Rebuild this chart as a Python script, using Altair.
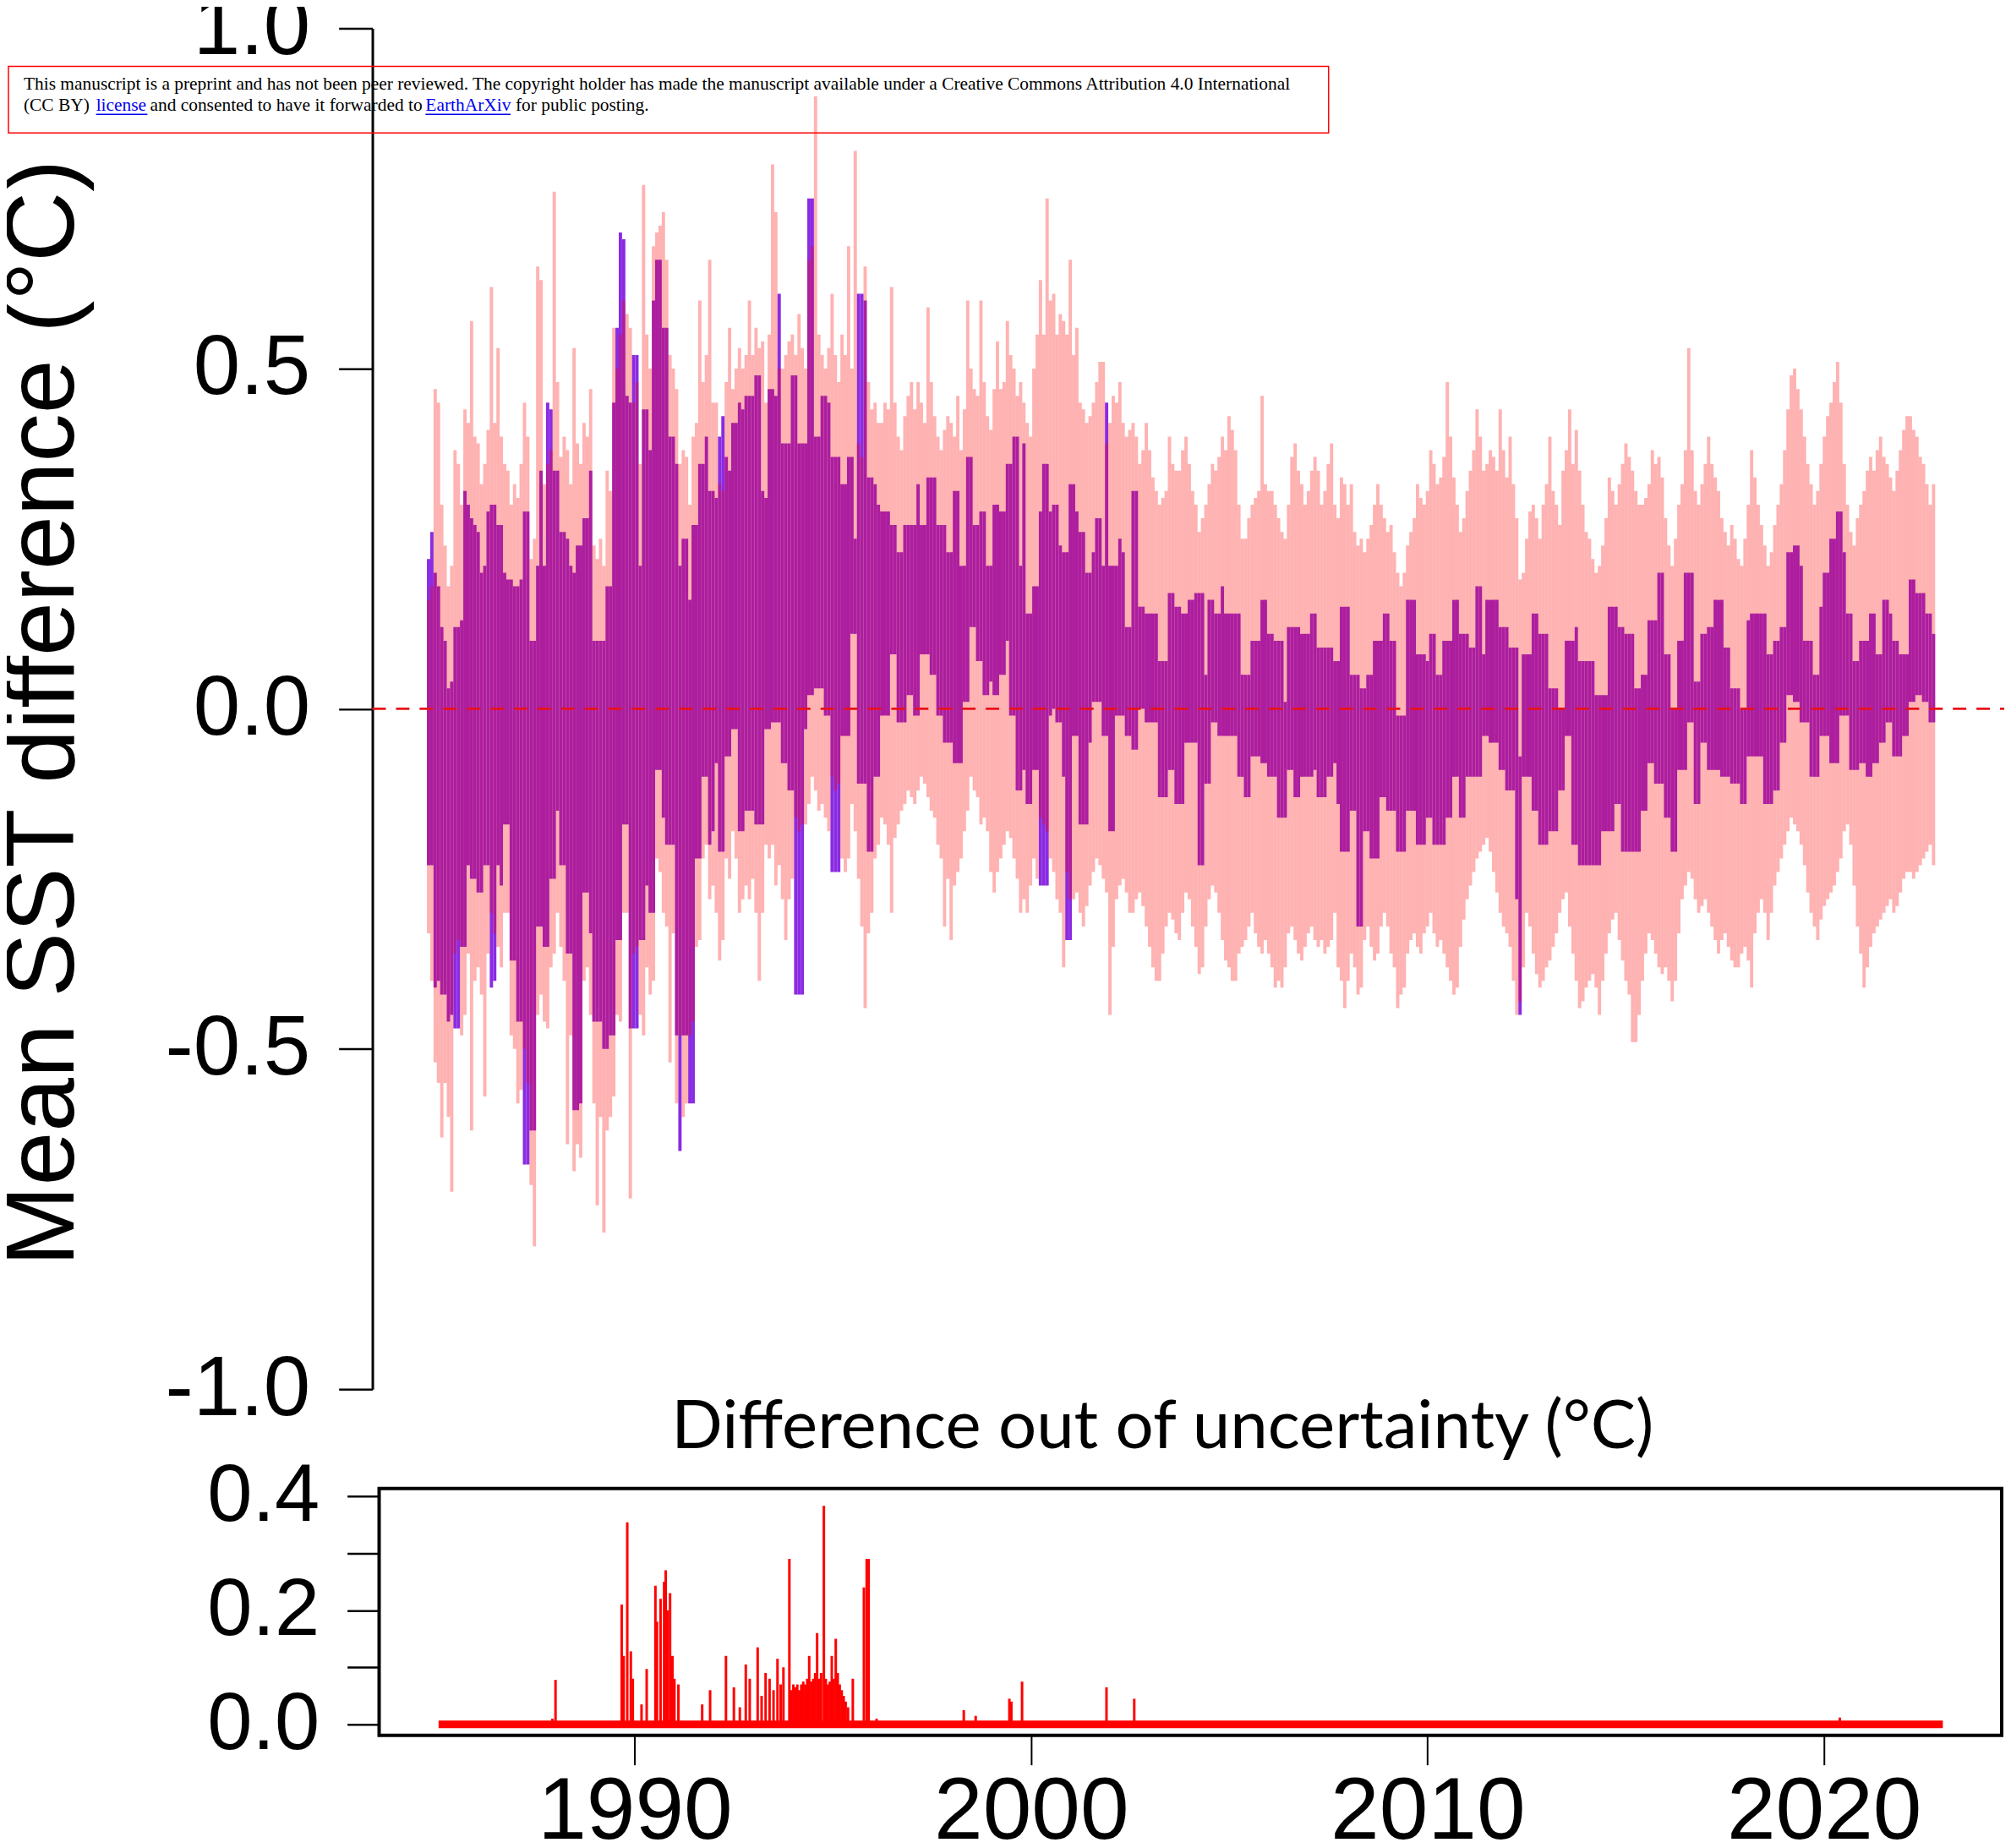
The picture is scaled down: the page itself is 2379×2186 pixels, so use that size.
import altair as alt
import numpy as np
import pandas as pd

# ---------------- data (monthly, Jan 1985 .. Dec 2022) ----------------
START_YEAR = 1985

purple_top = [
    0.22, 0.26, 0.20, 0.18, 0.12, 0.10, 0.03, 0.04, 0.12, 0.12, 0.13, 0.32,
    0.30, 0.28, 0.27, 0.26, 0.20, 0.21, 0.29, 0.30, 0.30, 0.27, 0.27, 0.20,
    0.19, 0.19, 0.18, 0.18, 0.19, 0.29, 0.29, 0.10, 0.10, 0.21, 0.35, 0.21,
    0.45, 0.44, 0.35, 0.35, 0.26, 0.26, 0.25, 0.21, 0.20, 0.24, 0.24, 0.28,
    0.28, 0.35, 0.10, 0.10, 0.10, 0.10, 0.18, 0.18, 0.45, 0.56, 0.70, 0.69,
    0.46, 0.45, 0.52, 0.52, 0.21, 0.44, 0.44, 0.38, 0.60, 0.66, 0.66, 0.56,
    0.56, 0.40, 0.40, 0.36, 0.21, 0.25, 0.25, 0.16, 0.27, 0.27, 0.36, 0.36,
    0.40, 0.32, 0.32, 0.31, 0.40, 0.43, 0.37, 0.35, 0.42, 0.42, 0.45, 0.44,
    0.46, 0.46, 0.46, 0.49, 0.49, 0.32, 0.31, 0.47, 0.47, 0.46, 0.61, 0.39,
    0.39, 0.39, 0.49, 0.49, 0.39, 0.39, 0.39, 0.75, 0.75, 0.40, 0.40, 0.46,
    0.46, 0.45, 0.37, 0.37, 0.37, 0.33, 0.33, 0.37, 0.37, 0.25, 0.61, 0.61,
    0.60, 0.34, 0.34, 0.33, 0.30, 0.29, 0.29, 0.29, 0.27, 0.27, 0.23, 0.23,
    0.27, 0.27, 0.27, 0.27, 0.33, 0.27, 0.27, 0.34, 0.34, 0.34, 0.27, 0.27,
    0.27, 0.23, 0.23, 0.32, 0.32, 0.21, 0.21, 0.37, 0.37, 0.27, 0.27, 0.29,
    0.29, 0.21, 0.21, 0.30, 0.30, 0.29, 0.29, 0.36, 0.36, 0.40, 0.40, 0.21,
    0.39, 0.14, 0.14, 0.18, 0.18, 0.29, 0.36, 0.36, 0.29, 0.30, 0.30, 0.24,
    0.23, 0.23, 0.33, 0.33, 0.29, 0.26, 0.26, 0.20, 0.20, 0.23, 0.28, 0.28,
    0.21, 0.45, 0.21, 0.21, 0.21, 0.25, 0.23, 0.12, 0.12, 0.32, 0.32, 0.15,
    0.15, 0.14, 0.14, 0.14, 0.14, 0.07, 0.07, 0.07, 0.17, 0.17, 0.15, 0.15,
    0.14, 0.14, 0.16, 0.16, 0.17, 0.17, 0.17, 0.05, 0.16, 0.16, 0.14, 0.14,
    0.18, 0.14, 0.14, 0.14, 0.14, 0.14, 0.05, 0.05, 0.05, 0.10, 0.10, 0.10,
    0.16, 0.16, 0.11, 0.11, 0.10, 0.10, 0.10, 0.01, 0.12, 0.12, 0.12, 0.12,
    0.11, 0.11, 0.11, 0.14, 0.14, 0.09, 0.09, 0.09, 0.09, 0.09, 0.07, 0.07,
    0.15, 0.15, 0.15, 0.05, 0.05, 0.05, 0.03, 0.03, 0.05, 0.05, 0.10, 0.10,
    0.10, 0.14, 0.14, 0.10, 0.10, -0.01, -0.01, -0.01, 0.16, 0.16, 0.16, 0.08,
    0.08, 0.08, 0.07, 0.11, 0.11, 0.05, 0.05, 0.10, 0.10, 0.10, 0.16, 0.16,
    0.11, 0.11, 0.11, 0.09, 0.09, 0.18, 0.18, 0.08, 0.16, 0.16, 0.16, 0.16,
    0.12, 0.12, 0.12, 0.09, 0.09, 0.09, -0.07, 0.08, 0.08, 0.08, 0.14, 0.14,
    0.11, 0.11, 0.11, 0.03, 0.03, 0.03, 0.00, 0.00, 0.10, 0.10, 0.10, 0.12,
    0.07, 0.07, 0.07, 0.07, 0.07, 0.02, 0.02, 0.02, 0.02, 0.15, 0.15, 0.15,
    0.12, 0.12, 0.11, 0.11, 0.11, 0.03, 0.03, 0.05, 0.05, 0.13, 0.13, 0.13,
    0.20, 0.20, 0.08, 0.08, 0.00, 0.00, 0.10, 0.10, 0.20, 0.20, 0.20, 0.04,
    0.04, 0.11, 0.11, 0.12, 0.12, 0.16, 0.16, 0.16, 0.09, 0.09, 0.03, 0.03,
    0.03, 0.00, 0.00, 0.13, 0.14, 0.14, 0.14, 0.14, 0.14, 0.08, 0.08, 0.10,
    0.10, 0.12, 0.12, 0.23, 0.23, 0.24, 0.24, 0.21, 0.10, 0.10, 0.10, 0.05,
    0.05, 0.15, 0.20, 0.20, 0.25, 0.25, 0.29, 0.29, 0.23, 0.14, 0.14, 0.07,
    0.07, 0.10, 0.10, 0.10, 0.14, 0.14, 0.08, 0.08, 0.16, 0.16, 0.14, 0.10,
    0.10, 0.08, 0.08, 0.08, 0.19, 0.19, 0.17, 0.17, 0.17, 0.14, 0.14, 0.11,
]

purple_bottom = [
    -0.23, -0.23, -0.41, -0.40, -0.42, -0.42, -0.46, -0.45, -0.47, -0.47, -0.35, -0.35,
    -0.23, -0.25, -0.25, -0.27, -0.27, -0.23, -0.23, -0.41, -0.40, -0.23, -0.26, -0.17,
    -0.17, -0.37, -0.37, -0.46, -0.46, -0.67, -0.67, -0.62, -0.62, -0.32, -0.32, -0.35,
    -0.35, -0.25, -0.25, -0.15, -0.23, -0.23, -0.36, -0.36, -0.59, -0.59, -0.58, -0.27,
    -0.27, -0.33, -0.46, -0.46, -0.46, -0.50, -0.50, -0.48, -0.48, -0.34, -0.34, -0.17,
    -0.17, -0.47, -0.47, -0.47, -0.34, -0.34, -0.26, -0.30, -0.30, -0.09, -0.09, -0.16,
    -0.20, -0.20, -0.20, -0.48, -0.65, -0.48, -0.48, -0.58, -0.58, -0.22, -0.22, -0.10,
    -0.10, -0.20, -0.18, -0.08, -0.21, -0.21, -0.07, -0.07, -0.03, -0.03, -0.18, -0.18,
    -0.15, -0.15, -0.15, -0.17, -0.17, -0.17, -0.03, -0.03, -0.02, -0.02, -0.02, -0.08,
    -0.08, -0.12, -0.12, -0.42, -0.42, -0.42, -0.03, 0.02, 0.02, 0.03, 0.03, 0.03,
    -0.01, -0.01, -0.24, -0.24, -0.24, -0.04, -0.04, -0.04, 0.11, 0.11, -0.11, -0.11,
    -0.11, -0.21, -0.21, -0.10, -0.10, -0.01, -0.01, -0.01, 0.08, 0.08, -0.02, -0.02,
    -0.02, 0.02, 0.02, -0.01, -0.01, 0.08, 0.08, 0.08, 0.05, 0.05, -0.01, -0.01,
    -0.05, -0.05, -0.05, -0.08, -0.08, -0.08, 0.01, 0.01, 0.12, 0.12, 0.07, 0.07,
    0.02, 0.02, 0.04, 0.02, 0.02, 0.05, 0.05, 0.10, -0.01, -0.01, -0.12, -0.12,
    -0.09, -0.14, -0.14, -0.09, -0.09, -0.26, -0.26, -0.26, -0.01, 0.00, -0.02, -0.02,
    -0.10, -0.34, -0.34, -0.04, -0.04, -0.17, -0.17, -0.17, -0.05, 0.01, 0.01, 0.01,
    -0.04, -0.04, -0.18, -0.18, -0.01, -0.01, -0.01, -0.04, -0.04, -0.06, -0.06, 0.00,
    0.00, -0.02, -0.02, -0.02, -0.02, -0.13, -0.13, -0.13, -0.09, -0.09, -0.14, -0.14,
    -0.14, -0.05, -0.05, -0.05, -0.05, -0.23, -0.23, -0.11, -0.11, -0.02, -0.02, -0.04,
    -0.04, -0.04, -0.04, -0.04, -0.04, -0.10, -0.10, -0.13, -0.13, -0.07, -0.07, -0.07,
    -0.08, -0.08, -0.10, -0.10, -0.10, -0.16, -0.16, -0.16, -0.09, -0.09, -0.13, -0.13,
    -0.10, -0.10, -0.10, -0.10, -0.09, -0.13, -0.13, -0.13, -0.10, -0.10, -0.08, -0.14,
    -0.21, -0.21, -0.21, -0.15, -0.15, -0.32, -0.32, -0.18, -0.18, -0.22, -0.22, -0.22,
    -0.13, -0.13, -0.15, -0.15, -0.15, -0.21, -0.21, -0.21, -0.15, -0.15, -0.15, -0.20,
    -0.20, -0.20, -0.16, -0.16, -0.20, -0.20, -0.20, -0.20, -0.16, -0.16, -0.10, -0.10,
    -0.16, -0.16, -0.10, -0.10, -0.10, -0.10, -0.10, -0.04, -0.04, -0.05, -0.05, -0.05,
    -0.09, -0.09, -0.12, -0.12, -0.12, -0.28, -0.45, -0.10, -0.10, -0.10, -0.15, -0.15,
    -0.20, -0.20, -0.20, -0.18, -0.18, -0.18, -0.12, -0.12, -0.04, -0.04, -0.20, -0.20,
    -0.23, -0.23, -0.23, -0.23, -0.23, -0.23, -0.23, -0.18, -0.18, -0.18, -0.18, -0.14,
    -0.14, -0.21, -0.21, -0.21, -0.21, -0.21, -0.21, -0.15, -0.15, -0.08, -0.08, -0.11,
    -0.11, -0.11, -0.16, -0.16, -0.21, -0.21, -0.09, -0.09, -0.09, -0.02, -0.02, -0.14,
    -0.14, -0.05, -0.05, -0.09, -0.09, -0.09, -0.09, -0.10, -0.10, -0.10, -0.11, -0.11,
    -0.11, -0.14, -0.14, -0.07, -0.07, -0.07, -0.07, -0.07, -0.14, -0.14, -0.14, -0.12,
    -0.12, -0.05, -0.05, 0.02, 0.02, 0.01, 0.01, -0.02, -0.02, -0.02, -0.10, -0.10,
    -0.10, -0.04, -0.04, -0.04, -0.08, -0.08, -0.08, -0.01, -0.01, -0.01, -0.09, -0.09,
    -0.09, -0.08, -0.08, -0.10, -0.10, -0.08, -0.08, -0.05, -0.05, -0.02, -0.02, -0.07,
    -0.07, -0.07, -0.04, -0.04, 0.01, 0.01, 0.02, 0.02, 0.01, 0.01, -0.02, -0.02,
]

pink_top = [
    0.16, 0.18, 0.47, 0.45, 0.30, 0.24, 0.18, 0.21, 0.38, 0.36, 0.30, 0.44,
    0.42, 0.57, 0.40, 0.39, 0.33, 0.36, 0.41, 0.62, 0.42, 0.53, 0.40, 0.36,
    0.35, 0.30, 0.33, 0.31, 0.36, 0.45, 0.40, 0.22, 0.25, 0.65, 0.63, 0.33,
    0.36, 0.38, 0.76, 0.48, 0.37, 0.40, 0.38, 0.33, 0.53, 0.39, 0.36, 0.42,
    0.40, 0.47, 0.24, 0.22, 0.25, 0.21, 0.35, 0.32, 0.56, 0.50, 0.55, 0.60,
    0.58, 0.56, 0.45, 0.48, 0.36, 0.77, 0.55, 0.50, 0.68, 0.70, 0.71, 0.73,
    0.66, 0.52, 0.50, 0.47, 0.36, 0.38, 0.37, 0.30, 0.40, 0.42, 0.60, 0.48,
    0.52, 0.66, 0.45, 0.45, 0.33, 0.32, 0.48, 0.56, 0.47, 0.50, 0.53, 0.50,
    0.52, 0.60, 0.52, 0.56, 0.53, 0.54, 0.45, 0.55, 0.80, 0.73, 0.50, 0.50,
    0.52, 0.54, 0.55, 0.52, 0.58, 0.53, 0.50, 0.66, 0.68, 0.90, 0.55, 0.52,
    0.50, 0.53, 0.61, 0.52, 0.48, 0.55, 0.52, 0.68, 0.50, 0.82, 0.39, 0.37,
    0.65, 0.48, 0.44, 0.45, 0.42, 0.42, 0.45, 0.44, 0.62, 0.45, 0.40, 0.38,
    0.43, 0.46, 0.48, 0.44, 0.48, 0.45, 0.42, 0.59, 0.48, 0.43, 0.40, 0.38,
    0.41, 0.43, 0.42, 0.40, 0.46, 0.38, 0.44, 0.60, 0.50, 0.47, 0.46, 0.60,
    0.48, 0.43, 0.41, 0.47, 0.54, 0.47, 0.48, 0.57, 0.52, 0.50, 0.46, 0.48,
    0.45, 0.42, 0.40, 0.50, 0.55, 0.63, 0.55, 0.75, 0.60, 0.61, 0.55, 0.58,
    0.57, 0.55, 0.66, 0.52, 0.56, 0.45, 0.44, 0.42, 0.43, 0.45, 0.48, 0.51,
    0.51, 0.39, 0.42, 0.46, 0.45, 0.48, 0.42, 0.40, 0.41, 0.42, 0.40, 0.36,
    0.38, 0.42, 0.38, 0.34, 0.32, 0.30, 0.31, 0.32, 0.40, 0.36, 0.35, 0.35,
    0.38, 0.40, 0.36, 0.32, 0.30, 0.26, 0.28, 0.30, 0.33, 0.36, 0.35, 0.37,
    0.40, 0.38, 0.43, 0.41, 0.38, 0.30, 0.25, 0.25, 0.28, 0.30, 0.31, 0.32,
    0.46, 0.33, 0.32, 0.32, 0.30, 0.28, 0.26, 0.25, 0.30, 0.37, 0.39, 0.35,
    0.33, 0.30, 0.32, 0.35, 0.37, 0.35, 0.30, 0.32, 0.36, 0.39, 0.30, 0.28,
    0.34, 0.33, 0.30, 0.33, 0.26, 0.24, 0.25, 0.23, 0.25, 0.27, 0.30, 0.33,
    0.30, 0.28, 0.26, 0.27, 0.23, 0.20, 0.18, 0.20, 0.24, 0.26, 0.28, 0.33,
    0.31, 0.30, 0.32, 0.38, 0.36, 0.33, 0.34, 0.37, 0.48, 0.40, 0.34, 0.30,
    0.26, 0.28, 0.32, 0.35, 0.38, 0.44, 0.40, 0.35, 0.36, 0.38, 0.37, 0.35,
    0.44, 0.38, 0.34, 0.40, 0.33, 0.28, 0.19, 0.20, 0.25, 0.29, 0.30, 0.28,
    0.25, 0.30, 0.33, 0.40, 0.32, 0.30, 0.27, 0.35, 0.38, 0.44, 0.36, 0.41,
    0.35, 0.30, 0.26, 0.25, 0.22, 0.20, 0.21, 0.24, 0.28, 0.34, 0.32, 0.30,
    0.33, 0.36, 0.39, 0.37, 0.35, 0.32, 0.30, 0.30, 0.31, 0.33, 0.38, 0.36,
    0.37, 0.34, 0.28, 0.24, 0.21, 0.25, 0.30, 0.33, 0.38, 0.53, 0.38, 0.32,
    0.30, 0.33, 0.36, 0.40, 0.36, 0.34, 0.32, 0.28, 0.26, 0.24, 0.27, 0.25,
    0.22, 0.21, 0.25, 0.30, 0.38, 0.34, 0.30, 0.27, 0.24, 0.21, 0.23, 0.27,
    0.30, 0.33, 0.38, 0.44, 0.49, 0.50, 0.47, 0.44, 0.40, 0.36, 0.33, 0.30,
    0.32, 0.36, 0.40, 0.43, 0.45, 0.48, 0.51, 0.45, 0.36, 0.30, 0.26, 0.24,
    0.28, 0.30, 0.32, 0.35, 0.37, 0.35, 0.38, 0.40, 0.37, 0.36, 0.34, 0.32,
    0.35, 0.38, 0.41, 0.43, 0.43, 0.41, 0.40, 0.37, 0.36, 0.33, 0.30, 0.33,
]

pink_bottom = [
    -0.33, -0.40, -0.52, -0.55, -0.63, -0.55, -0.60, -0.71, -0.36, -0.34, -0.48, -0.45,
    -0.36, -0.62, -0.40, -0.38, -0.42, -0.57, -0.36, -0.30, -0.33, -0.35, -0.38, -0.30,
    -0.30, -0.48, -0.50, -0.58, -0.56, -0.50, -0.55, -0.70, -0.79, -0.45, -0.42, -0.46,
    -0.47, -0.38, -0.36, -0.30, -0.35, -0.40, -0.64, -0.48, -0.68, -0.64, -0.66, -0.40,
    -0.38, -0.45, -0.58, -0.73, -0.60, -0.77, -0.62, -0.60, -0.57, -0.45, -0.46, -0.30,
    -0.30, -0.72, -0.36, -0.35, -0.45, -0.48, -0.38, -0.42, -0.40, -0.22, -0.24, -0.30,
    -0.32, -0.52, -0.33, -0.58, -0.48, -0.60, -0.58, -0.48, -0.46, -0.35, -0.34, -0.22,
    -0.20, -0.28, -0.26, -0.30, -0.37, -0.34, -0.22, -0.25, -0.18, -0.22, -0.30, -0.28,
    -0.26, -0.28, -0.25, -0.30, -0.40, -0.30, -0.20, -0.22, -0.20, -0.26, -0.23, -0.28,
    -0.34, -0.28, -0.25, -0.16, -0.18, -0.17, -0.17, -0.14, -0.10, -0.12, -0.15, -0.14,
    -0.16, -0.18, -0.10, -0.12, -0.11, -0.22, -0.24, -0.22, -0.14, -0.18, -0.25, -0.32,
    -0.44, -0.33, -0.30, -0.22, -0.20, -0.16, -0.17, -0.20, -0.30, -0.19, -0.17, -0.15,
    -0.14, -0.12, -0.13, -0.14, -0.12, -0.10, -0.11, -0.13, -0.15, -0.16, -0.20, -0.22,
    -0.32, -0.25, -0.34, -0.26, -0.24, -0.22, -0.18, -0.15, -0.10, -0.12, -0.13, -0.17,
    -0.16, -0.18, -0.24, -0.27, -0.24, -0.22, -0.20, -0.18, -0.19, -0.22, -0.25, -0.30,
    -0.28, -0.30, -0.26, -0.22, -0.25, -0.16, -0.17, -0.18, -0.22, -0.24, -0.28, -0.30,
    -0.38, -0.24, -0.28, -0.28, -0.27, -0.30, -0.32, -0.29, -0.26, -0.24, -0.22, -0.23,
    -0.25, -0.27, -0.45, -0.35, -0.28, -0.26, -0.25, -0.27, -0.30, -0.30, -0.28, -0.27,
    -0.29, -0.32, -0.35, -0.38, -0.40, -0.40, -0.36, -0.32, -0.30, -0.31, -0.33, -0.34,
    -0.30, -0.27, -0.28, -0.32, -0.35, -0.39, -0.38, -0.32, -0.28, -0.26, -0.27, -0.30,
    -0.34, -0.37, -0.38, -0.40, -0.40, -0.36, -0.35, -0.34, -0.32, -0.30, -0.33, -0.35,
    -0.36, -0.34, -0.36, -0.38, -0.41, -0.40, -0.41, -0.38, -0.33, -0.32, -0.34, -0.36,
    -0.37, -0.35, -0.33, -0.32, -0.34, -0.35, -0.34, -0.36, -0.35, -0.34, -0.30, -0.38,
    -0.40, -0.44, -0.40, -0.36, -0.38, -0.42, -0.41, -0.34, -0.32, -0.35, -0.37, -0.36,
    -0.32, -0.30, -0.32, -0.36, -0.38, -0.44, -0.42, -0.41, -0.36, -0.34, -0.33, -0.35,
    -0.36, -0.33, -0.32, -0.30, -0.33, -0.35, -0.34, -0.36, -0.38, -0.40, -0.42, -0.41,
    -0.35, -0.31, -0.28, -0.26, -0.24, -0.22, -0.21, -0.20, -0.19, -0.21, -0.24, -0.27,
    -0.30, -0.32, -0.33, -0.35, -0.40, -0.45, -0.43, -0.38, -0.30, -0.32, -0.36, -0.39,
    -0.41, -0.40, -0.38, -0.37, -0.35, -0.33, -0.30, -0.28, -0.27, -0.32, -0.36, -0.40,
    -0.44, -0.43, -0.41, -0.40, -0.39, -0.41, -0.45, -0.40, -0.36, -0.33, -0.31, -0.30,
    -0.34, -0.37, -0.40, -0.42, -0.49, -0.49, -0.45, -0.40, -0.36, -0.33, -0.34, -0.36,
    -0.38, -0.39, -0.38, -0.40, -0.43, -0.40, -0.33, -0.28, -0.26, -0.24, -0.25, -0.28,
    -0.30, -0.29, -0.28, -0.30, -0.32, -0.34, -0.36, -0.34, -0.33, -0.35, -0.37, -0.38,
    -0.38, -0.36, -0.35, -0.37, -0.41, -0.33, -0.30, -0.28, -0.30, -0.34, -0.30, -0.26,
    -0.24, -0.22, -0.20, -0.18, -0.16, -0.17, -0.18, -0.20, -0.23, -0.27, -0.30, -0.32,
    -0.34, -0.31, -0.29, -0.28, -0.27, -0.26, -0.24, -0.22, -0.18, -0.17, -0.20, -0.26,
    -0.32, -0.36, -0.41, -0.38, -0.35, -0.33, -0.32, -0.31, -0.30, -0.29, -0.28, -0.30,
    -0.29, -0.27, -0.25, -0.24, -0.24, -0.25, -0.24, -0.23, -0.22, -0.21, -0.20, -0.23,
]

# lower panel: difference out of uncertainty
out_year = [1987.92, 1988.0, 1989.67, 1989.72, 1989.81, 1989.9, 1989.95, 1990.17, 1990.3,
            1990.52, 1990.56, 1990.65, 1990.74, 1990.78, 1990.83, 1990.89, 1990.95, 1991.0,
            1991.1, 1991.7, 1991.9, 1992.3, 1992.5, 1992.65, 1992.8, 1992.9, 1993.1, 1993.2,
            1993.3, 1993.4, 1993.5, 1993.6, 1993.68, 1993.75, 1993.9, 1993.95, 1994.0, 1994.05,
            1994.1, 1994.15, 1994.2, 1994.25, 1994.3, 1994.35, 1994.4, 1994.45, 1994.5, 1994.55,
            1994.6, 1994.65, 1994.7, 1994.77, 1994.82, 1994.87, 1994.92, 1994.97, 1995.02,
            1995.07, 1995.12, 1995.17, 1995.22, 1995.27, 1995.32, 1995.38, 1995.5, 1995.78,
            1995.85, 1995.9, 1996.1, 1998.3, 1998.6, 1999.45, 1999.5, 1999.77, 2001.9, 2002.6,
            2020.4]
out_value = [0.01, 0.078, 0.21, 0.12, 0.354, 0.128, 0.08, 0.035, 0.097,
             0.243, 0.18, 0.22, 0.25, 0.27, 0.20, 0.23, 0.12, 0.08,
             0.07, 0.035, 0.06, 0.12, 0.065, 0.03, 0.105, 0.08, 0.135, 0.05,
             0.09, 0.08, 0.06, 0.115, 0.07, 0.10, 0.29, 0.06, 0.07, 0.065,
             0.07, 0.06, 0.07, 0.075, 0.07, 0.08, 0.12, 0.075, 0.08, 0.09,
             0.16, 0.08, 0.09, 0.383, 0.08, 0.07, 0.075, 0.12, 0.08,
             0.15, 0.09, 0.07, 0.06, 0.05, 0.04, 0.03, 0.08, 0.24,
             0.29, 0.29, 0.01, 0.025, 0.015, 0.045, 0.04, 0.075, 0.065, 0.045,
             0.012]
series_span = [1985.05, 2023.0]

top_ticks = [-1.0, -0.5, 0.0, 0.5, 1.0]
bottom_y_ticks = [0.0, 0.1, 0.2, 0.3, 0.4]
bottom_x_ticks = [1990, 2000, 2010, 2020]

notice_line1 = ["This manuscript is a preprint and has not been peer reviewed. The copyright holder has made the manuscript available under a  Creative Commons Attribution 4.0 International"]
notice_line2 = ["(CC BY)", "license", "and consented to have it forwarded to", "EarthArXiv", "for public posting."]

assert len(purple_top) == len(purple_bottom) == len(pink_top) == len(pink_bottom) == 456
assert len(out_year) == len(out_value)

n = len(purple_top)
t0 = START_YEAR + np.arange(n) / 12.0
top_df = pd.DataFrame({
    "t0": t0, "t1": t0 + 1 / 12.0,
    "pt": purple_top, "pb": purple_bottom,
    "kt": pink_top, "kb": pink_bottom,
})
bot_df = pd.DataFrame({"year": out_year, "value": out_value, "base": 0.0})
span_df = pd.DataFrame({"x0": [series_span[0]], "x1": [series_span[1]], "y": [0.0]})

FONT = "Liberation Sans"

# ---------------- top panel ----------------
xs_top = alt.Scale(domain=[1983.796, 2024.74], nice=False, zero=False)
ys_top = alt.Scale(domain=[-1, 1], nice=False, zero=False)
yaxis_top = alt.Axis(
    values=top_ticks,
    labelExpr="datum.value < 0 ? '-' + format(-datum.value, '.1f') : format(datum.value, '.1f')",
    offset=8, tickSize=40, tickWidth=2.5, tickColor="black",
    domainColor="black", domainWidth=3, grid=False, labelOverlap=False, labelLimit=0,
    labelFont=FONT, labelFontSize=100, labelColor="black", labelPadding=34,
    title="Mean SST difference (°C)", titleFont=FONT, titleFontSize=115,
    titleFontWeight="normal", titleColor="black", titleAngle=270, titleLimit=0,
    titleX=-390, titleY=812, titleAlign="center", titleBaseline="middle",
)

purple = alt.Chart(top_df).mark_rect(color="#8a2be2").encode(
    x=alt.X("t0:Q", scale=xs_top, axis=None), x2="t1:Q",
    y=alt.Y("pb:Q", scale=ys_top, axis=yaxis_top), y2="pt:Q",
)
pink = alt.Chart(top_df).mark_rect(color="#ff0000", opacity=0.3).encode(
    x=alt.X("t0:Q", scale=xs_top, axis=None), x2="t1:Q",
    y=alt.Y("kb:Q", scale=ys_top, axis=yaxis_top), y2="kt:Q",
)
zero_line = alt.Chart(pd.DataFrame({"y": [0.0]})).mark_rule(
    color="#e8121b", strokeWidth=3, strokeDash=[16, 12]
).encode(
    y=alt.Y("y:Q", scale=ys_top, axis=yaxis_top),
    x=alt.value(-8), x2=alt.value(1929),
)

notice_box = alt.Chart(pd.DataFrame({"a": [0]})).mark_rect(
    filled=False, stroke="#ff0000", strokeWidth=1.5
).encode(x=alt.value(-440), x2=alt.value(1127), y=alt.value(45), y2=alt.value(124))


def notice_text(txt, px, py, color="black"):
    return alt.Chart(pd.DataFrame({"s": [txt]})).mark_text(
        font="Liberation Serif", fontSize=21.5, align="left", baseline="alphabetic",
        color=color, limit=0
    ).encode(x=alt.value(px), y=alt.value(py), text="s:N")


def underline(x0, x1, py):
    return alt.Chart(pd.DataFrame({"a": [0]})).mark_rule(color="#0000ee", strokeWidth=1.3).encode(
        x=alt.value(x0), x2=alt.value(x1), y=alt.value(py)
    )


notice_layers = [
    notice_box,
    notice_text(notice_line1[0], -422, 73),
    notice_text(notice_line2[0], -422, 98),
    notice_text(notice_line2[1], -336, 98, "#0000ee"),
    notice_text(notice_line2[2], -272, 98),
    notice_text(notice_line2[3], 55, 98, "#0000ee"),
    notice_text(notice_line2[4], 162, 98),
    underline(-336, -275, 102),
    underline(55, 156, 102),
]

top = alt.layer(purple, pink, zero_line, *notice_layers).properties(
    width=1929, height=1615,
    view=alt.ViewBackground(stroke="transparent", strokeWidth=0),
)

# ---------------- bottom panel ----------------
xs_bot = alt.Scale(domain=[1983.55, 2024.485], nice=False, zero=False)
ys_bot = alt.Scale(domain=[-0.0192, 0.4133], nice=False, zero=False)
xaxis_bot = alt.Axis(
    values=bottom_x_ticks, format="d", tickSize=35, tickWidth=2, tickColor="black",
    domain=False, grid=False, labelFont=FONT, labelFontSize=104, labelColor="black",
    labelPadding=5, labelFlush=False, labelOverlap=False, labelLimit=0, title="",
)
yaxis_bot = alt.Axis(
    values=bottom_y_ticks,
    labelExpr="(abs(datum.value - 0.1) < 0.001 || abs(datum.value - 0.3) < 0.001) ? '' : format(datum.value, '.1f')",
    tickSize=38, tickWidth=2.5, tickColor="black", domain=False, grid=False,
    labelFont=FONT, labelFontSize=96, labelColor="black", labelPadding=33,
    labelOverlap=False, labelLimit=0, title="",
)

baseline = alt.Chart(span_df).mark_rule(color="#ff0000", strokeWidth=9).encode(
    x=alt.X("x0:Q", scale=xs_bot, axis=xaxis_bot), x2="x1:Q",
    y=alt.Y("y:Q", scale=ys_bot, axis=yaxis_bot),
)
bars = alt.Chart(bot_df).mark_rule(color="#ff0000", strokeWidth=3).encode(
    x=alt.X("year:Q", scale=xs_bot, axis=xaxis_bot),
    y=alt.Y("value:Q", scale=ys_bot, axis=yaxis_bot), y2="base:Q",
)

bottom = alt.layer(baseline, bars).properties(
    width=1926, height=293,
    view=alt.ViewBackground(stroke="black", strokeWidth=4),
    title=alt.TitleParams(
        text="Difference out of uncertainty (°C)", font="Lato", fontSize=80,
        fontWeight="normal", color="black", anchor="middle", dx=-33, dy=38, offset=30,
        limit=0,
    ),
)

chart = alt.vconcat(top, bottom, spacing=118, bounds="flush").properties(
    autosize=alt.AutoSizeParams(type="none"),
    padding={"left": 442, "top": 22, "right": 1929, "bottom": 2156},
    background="white",
).configure_view(stroke="transparent")

chart.save("out.html", embed_options={"renderer": "svg", "actions": False})
